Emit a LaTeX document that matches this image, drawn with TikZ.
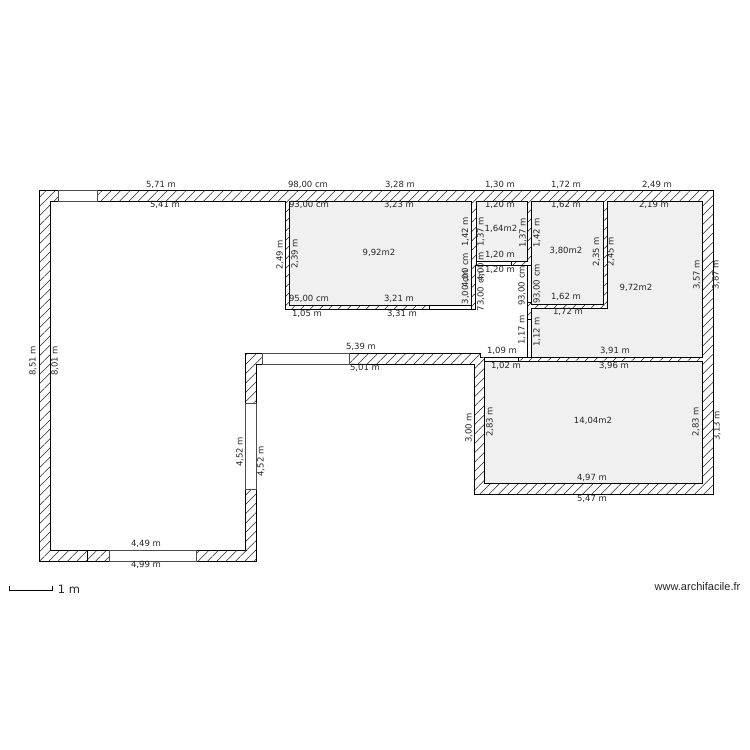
\documentclass[tikz,border=0pt]{standalone}
\usepackage{fontspec}
\setmainfont{DejaVu Sans}
\newfontfamily\webfont{Liberation Sans}
\usetikzlibrary{patterns.meta}
\newcounter{lab}
\tikzset{
  dimlabel/.style={font=\fontsize{8.5}{10}\selectfont,inner sep=0pt,text=black!85},
  hatchfill/.style={pattern={Lines[angle=45,distance=6.6pt,line width=.55pt]},pattern color=black!85},
  wall/.style={draw=black,line width=.8pt,hatchfill},
  room/.style={draw=black,line width=.8pt,fill=black!6},
  blank/.style={draw=black,line width=.8pt,fill=white},
  opening/.style={draw=black!70,line width=.8pt,fill=white},
  door/.style={draw=black,line width=.8pt,fill=white},
}
\newcommand{\hl}[3]{\stepcounter{lab}\node[dimlabel,name=l\thelab] at (#1,#2) {#3};}
\newcommand{\vl}[3]{\stepcounter{lab}\node[dimlabel,rotate=90,name=l\thelab] at (#1,#2) {#3};}
\begin{document}
\begin{tikzpicture}[x=1pt,y=-1pt]
\useasboundingbox (0,0) rectangle (750,750);
\fill[white] (0,0) rectangle (750,750);
% walls
\draw[wall] (39,190) -- (713,190) -- (713,494) -- (474,494) -- (474,364) -- (256,364) -- (256,561) -- (39,561) -- cycle;
% open interior
\draw[blank] (50,201) -- (285,201) -- (285,309) -- (475.5,309) -- (475.5,265) -- (527.5,265) -- (527.5,357) -- (484,357) -- (480,357) -- (480,353) -- (245,353) -- (245,550) -- (50,550) -- cycle;
% lower-left walls, hatched again over the open interior
\fill[white] (245,353) rectangle (480,364);
\fill[white] (245,353) rectangle (256,550);
\fill[hatchfill] (245,353) rectangle (480,364);
\fill[hatchfill] (245,364) rectangle (256,550);
\draw[black,line width=.8pt] (245,550) -- (245,353) -- (480,353) -- (480,357);
\draw[black,line width=.8pt] (256,550) -- (256,364) -- (474,364);
% rooms
\draw[room] (289.5,201) rectangle (471,305);
\draw[room] (476,201) rectangle (527.5,261);
\draw[room] (531.7,201) rectangle (603,304);
\draw[room] (607,201) -- (702,201) -- (702,357) -- (531.7,357) -- (531.7,308) -- (607,308) -- cycle;
\draw[room] (484.3,361) rectangle (702,483.5);
% windows
\draw[opening] (58.5,190) rectangle (97.7,201);
\draw[opening] (109,550) rectangle (196,561);
\draw[opening] (245,403.5) rectangle (256,489.5);
\draw[opening] (262.6,353) rectangle (349.3,364);
% doors
\draw[door] (429,305) rectangle (471,309);
\draw[door] (476,261) rectangle (511.7,265);
\draw[door] (527.5,265) rectangle (531.7,302);
\draw[door] (527.5,319) rectangle (531.7,357);
\draw[door] (484.3,357) rectangle (518,361);
\draw[black,line width=1.1pt] (87.7,550) -- (87.7,561);
% scale bar
\coordinate (sa) at (9,590); \coordinate (sb) at (52,590);
\draw[black,line width=.7pt] (9,586) -- (sa) -- (sb) -- (52,586);
\node[name=scale,inner sep=0pt,font=\fontsize{11.5}{13}\selectfont,text=black!85] at (69,589) {1 m};
\node[name=web,inner sep=0pt,font=\webfont\fontsize{11}{13}\selectfont,text=black!85] at (697.5,587) {www.archifacile.fr};
% labels
\hl{161}{185}{5,71 m}\hl{308}{185}{98,00 cm}\hl{400}{185}{3,28 m}\hl{500}{185}{1,30 m}\hl{566}{185}{1,72 m}\hl{657}{185}{2,49 m}
\hl{165}{205}{5,41 m}\hl{309}{205}{93,00 cm}\hl{399}{205}{3,23 m}\hl{500}{205}{1,20 m}\hl{566}{205}{1,62 m}\hl{654}{205}{2,19 m}
\hl{379}{253}{9,92m2}\hl{501}{229}{1,64m2}\hl{566}{251}{3,80m2}\hl{636}{288}{9,72m2}\hl{593}{421}{14,04m2}
\vl{280}{255}{2,49 m}\vl{295}{254}{2,39 m}
\hl{309}{299}{95,00 cm}\hl{399}{299}{3,21 m}\hl{307}{314}{1,05 m}\hl{402}{314}{3,31 m}
\vl{465.5}{232}{1,42 m}\vl{465.5}{270}{4,00 cm}\vl{465.5}{287}{3,00 cm}
\vl{481}{232}{1,37 m}\vl{481}{267}{4,00 m}\vl{481}{291}{73,00 cm}
\vl{523}{233}{1,37 m}\vl{537}{233}{1,42 m}
\hl{500}{255}{1,20 m}\hl{500}{270}{1,20 m}
\vl{522}{286}{93,00 cm}\vl{537}{284}{93,00 cm}
\hl{566}{297}{1,62 m}\hl{568}{312}{1,72 m}
\vl{596.5}{252}{2,35 m}\vl{611}{252}{2,45 m}
\vl{697}{275}{3,57 m}\vl{716}{275}{3,87 m}
\vl{522}{330}{1,17 m}\vl{537}{332}{1,12 m}
\hl{502}{351}{1,09 m}\hl{506}{366}{1,02 m}\hl{615}{351}{3,91 m}\hl{614}{366}{3,96 m}
\vl{490}{422}{2,83 m}\vl{696}{422}{2,83 m}\vl{717}{426}{3,13 m}\vl{469}{428}{3,00 m}
\hl{592}{478}{4,97 m}\hl{592}{499}{5,47 m}
\hl{361}{347}{5,39 m}\hl{365}{368}{5,01 m}
\vl{240}{452}{4,52 m}\vl{261}{461.5}{4,52 m}
\vl{33}{361}{8,51 m}\vl{55}{361}{8,01 m}
\hl{146}{544}{4,49 m}\hl{146}{565}{4,99 m}
\end{tikzpicture}
\end{document}
